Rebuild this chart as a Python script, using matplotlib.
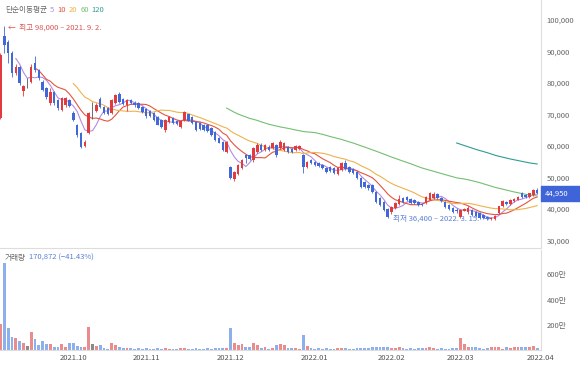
import numpy as np
import pandas as pd
import matplotlib
matplotlib.use('Agg')
import matplotlib.pyplot as plt

plt.rcParams['font.family'] = ['Noto Sans CJK KR', 'DejaVu Sans']

# daily candles, 2021-09-01 .. 2022-03-31 (KRX trading days)
opens = [69000, 95000, 93000, 89500, 83300, 85200, 77500, 80000, 80400, 86500,
         84100, 80400, 78400, 73600, 77200, 74600, 71400, 73000, 74600, 70500,
         66700, 64100, 60000, 64100, 69200, 71100, 74900, 72400, 72100, 70500,
         73600, 76500, 74900, 73000, 74600, 73800, 73600, 72400, 71700, 71100,
         70500, 69200, 68300, 65000, 67600, 68900, 68000, 66000, 68300, 70000,
         69300, 67700, 67300, 66700, 66500, 65700, 64400, 62500, 61300, 58100,
         53300, 49500, 51000, 53000, 57000, 57000, 55500, 58100, 60300, 58700,
         59700, 59400, 60300, 59400, 58700, 59700, 59000, 58700, 59000, 57100,
         53300, 55600, 55000, 54600, 54000, 53000, 53300, 53000, 51000, 52400,
         54600, 53300, 52700, 51700, 49800, 48600, 47600, 47600, 45400, 43500,
         42200, 40000, 39000, 40300, 41600, 43500, 43900, 43300, 42900, 42300,
         41500, 42000, 43000, 43500, 44800, 43600, 42200, 41300, 40300, 39700,
         37500, 39400, 39000, 39700, 39000, 38700, 38000, 37500, 36800, 36900,
         38600, 40800, 42300, 41600, 42500, 43000, 45000, 44500, 43800, 44500,
         46000]
highs = [89500, 98000, 93500, 90000, 86000, 85500, 79500, 81500, 86000, 88500,
         84500, 81000, 78800, 78400, 77500, 75000, 75500, 75500, 75000, 71000,
         67000, 64500, 61800, 70800, 74000, 73500, 75500, 72800, 72500, 75000,
         76500, 77000, 75200, 75000, 75000, 74300, 74000, 72800, 72000, 71500,
         70800, 69500, 68600, 68600, 69500, 69200, 68300, 68200, 71200, 70300,
         69600, 68000, 67500, 67000, 67000, 66000, 64700, 62800, 61600, 61600,
         53600, 52000, 54300, 56000, 57500, 57500, 59800, 60800, 60800, 60600,
         60200, 61300, 60600, 62000, 61300, 60000, 59300, 60300, 60300, 57500,
         55300, 56000, 55300, 54900, 54300, 53300, 53600, 53300, 53300, 55000,
         55500, 53600, 53000, 52000, 50100, 48900, 48000, 47900, 45700, 43800,
         42500, 40300, 41000, 42200, 44500, 43800, 44200, 43600, 43200, 42600,
         42000, 44200, 45500, 45300, 45100, 43900, 42500, 41600, 40600, 40200,
         40000, 40300, 41000, 40000, 39300, 39000, 38300, 37800, 37500, 38200,
         41000, 42800, 42600, 43300, 43600, 44200, 45300, 44800, 45200, 46300,
         46500]
lows = [68500, 89500, 86500, 82000, 82500, 79500, 76000, 78500, 80000, 83500,
        81000, 77500, 75000, 73000, 73000, 71500, 71000, 72500, 72300, 68000,
        63000, 59500, 59800, 63800, 68500, 70800, 72000, 70000, 69800, 70000,
        73300, 73600, 73000, 71000, 73300, 72500, 71800, 70500, 69000, 69200,
        68000, 66500, 65800, 64500, 67300, 67000, 66800, 65800, 68000, 67800,
        67100, 64800, 65200, 64800, 64500, 63200, 61600, 60800, 58400, 57800,
        49500, 49000, 50800, 52800, 54500, 55500, 55000, 57800, 58500, 58400,
        58500, 59000, 56500, 59000, 58500, 57800, 57700, 58400, 58700, 51400,
        53000, 54300, 53700, 53300, 52700, 51400, 51700, 51100, 50700, 52100,
        52400, 51400, 51100, 49500, 46700, 46700, 46000, 45100, 41900, 41000,
        39400, 37200, 38500, 40000, 41300, 42000, 42600, 41700, 41600, 41000,
        40800, 41700, 42800, 43200, 43300, 42300, 40300, 39700, 38700, 38700,
        37200, 39200, 38500, 37800, 37400, 36800, 36700, 36600, 36500, 36400,
        38300, 40500, 41300, 41300, 42200, 42700, 43600, 43500, 43500, 44200,
        44600]
closes = [89000, 92000, 89500, 83200, 85200, 80000, 79000, 80000, 85200, 84000,
          81600, 77800, 75600, 77200, 73600, 72100, 75200, 75200, 72700, 68300,
          63500, 59700, 61300, 70500, 69200, 73000, 72400, 70500, 70200, 74600,
          76200, 74000, 73300, 74600, 73600, 73000, 72100, 70800, 69500, 69500,
          68300, 66700, 66000, 68300, 69200, 67300, 67000, 67900, 70800, 68000,
          67400, 65100, 65400, 65100, 64800, 63500, 61900, 61000, 58700, 61300,
          49800, 51700, 54000, 55600, 56200, 56000, 59400, 60300, 58700, 60300,
          58700, 61000, 57100, 61300, 61000, 58100, 58000, 60000, 60000, 53300,
          55000, 54600, 54000, 53600, 53000, 51700, 52000, 51400, 53000, 54600,
          52700, 51700, 51400, 49800, 47000, 47000, 46500, 45400, 42200, 41300,
          39700, 37500, 40600, 41900, 43200, 42300, 42900, 42000, 41900, 41300,
          41300, 43900, 45100, 44800, 43600, 42600, 40600, 40000, 39000, 39400,
          39700, 40000, 40300, 38100, 37700, 37100, 37000, 36800, 37200, 37900,
          40800, 42500, 41600, 43000, 43300, 43900, 43900, 43800, 45000, 46000,
          44950]
# volume in 만 shares
volumes = [206, 690, 174, 105, 97, 74, 58, 32, 145, 84,
           37, 71, 45, 45, 26, 21, 45, 26, 55, 53,
           34, 21, 21, 185, 45, 32, 37, 18, 10, 58,
           42, 26, 18, 13, 12, 10, 14, 9, 12, 8,
           10, 13, 9, 15, 11, 8, 9, 12, 16, 10,
           9, 13, 8, 10, 12, 11, 14, 12, 16, 18,
           177, 53, 40, 45, 21, 26, 53, 40, 18, 21,
           10, 12, 40, 48, 37, 18, 18, 13, 10, 119,
           29, 13, 10, 12, 9, 14, 10, 11, 13, 15,
           12, 8, 9, 13, 18, 14, 12, 20, 24, 26,
           22, 24, 18, 15, 20, 13, 10, 12, 9, 14,
           12, 18, 22, 14, 10, 12, 11, 10, 14, 16,
           93, 45, 26, 26, 21, 13, 10, 18, 26, 26,
           21, 10, 21, 18, 26, 21, 21, 21, 26, 29,
           17.0872]

holidays = ['2021-09-20', '2021-09-21', '2021-09-22', '2021-10-04', '2021-10-11',
            '2021-12-31', '2022-01-31', '2022-02-01', '2022-02-02',
            '2022-03-01', '2022-03-09']
ma_windows = [5, 10, 20, 60, 120]
ma_colors = ['#b48be6', '#e4553f', '#efb24c', '#74bf72', '#2f9c94']

days = pd.bdate_range('2021-09-01', '2022-04-01')
days = days[~days.isin(pd.to_datetime(holidays))]
df = pd.DataFrame({'open': opens, 'high': highs, 'low': lows, 'close': closes,
                   'vol': np.array(volumes) * 1e4}, index=days[:len(closes)])
x = np.arange(len(df))

up = df['close'] > df['open']
down = df['close'] < df['open']
c_col = np.where(up, '#e23b3f', np.where(down, '#4068d6', '#555555'))
v_col = np.where(up, '#ea8c8e', np.where(down, '#8db0ec', '#8a8a8a'))

fig = plt.figure(figsize=(5.8, 3.67), dpi=100)
W, H = 580, 367
axp = fig.add_axes([0, (H - 248) / H, 541 / W, 248 / H])
axv = fig.add_axes([0, (H - 350) / H, 541 / W, 100 / H])

# candles
axp.vlines(x, df['low'], df['high'], colors=c_col, lw=0.6, zorder=3)
body_lo = np.minimum(df['open'], df['close'])
body_h = np.maximum(np.abs(df['close'] - df['open']), 150)
axp.bar(x, body_h, bottom=body_lo, width=0.64, color=c_col, zorder=4)

# moving averages
for w, col in zip(ma_windows, ma_colors):
    axp.plot(x, df['close'].rolling(w).mean(), color=col, lw=0.8, zorder=2)

axp.set_xlim(-0.13, 141)
axp.set_ylim(27600, 106350)
axp.set_yticks(np.arange(30000, 100001, 10000))
axp.set_yticklabels([f'{v:,}' for v in range(30000, 100001, 10000)])
axp.yaxis.tick_right()
axp.tick_params(axis='y', length=0, labelsize=5.5, labelcolor='#666666', pad=4)
axp.set_xticks([])

# volume
axv.bar(x, df['vol'], width=0.72, color=v_col)
axv.set_xlim(-0.13, 141)
axv.set_ylim(0, 7.94e6)
axv.set_yticks([2e6, 4e6, 6e6])
axv.set_yticklabels(['200만', '400만', '600만'])
axv.yaxis.tick_right()
axv.tick_params(axis='y', length=0, labelsize=5.5, labelcolor='#666666', pad=4)

month_first = pd.Series(np.arange(len(days)), index=days).groupby(days.to_period('M')).first()
tick_idx = list(month_first.values[1:])
tick_lab = [p.strftime('%Y.%m') for p in month_first.index[1:]]
axv.set_xticks(tick_idx)
axv.set_xticklabels(tick_lab)
axv.tick_params(axis='x', length=0, labelsize=5.5, labelcolor='#555555', pad=3)

for ax in (axp, axv):
    for s in ax.spines.values():
        s.set_visible(False)
    ax.spines['right'].set_visible(True)
    ax.spines['right'].set_color('#dddddd')
    ax.spines['right'].set_linewidth(0.8)
    ax.spines['bottom'].set_visible(True)
    ax.spines['bottom'].set_color('#dddddd')
    ax.spines['bottom'].set_linewidth(0.8)

# header texts, chained left to right
fig.canvas.draw()
renderer = fig.canvas.get_renderer()


def chain(parts, x0, y0, size=5.5):
    xp = x0
    for txt, col in parts:
        t = fig.text(xp / W, 1 - y0 / H, txt, color=col, fontsize=size, va='center', ha='left')
        bb = t.get_window_extent(renderer)
        xp += bb.width + 3


chain([('단순이동평균', '#666666')] + [(str(w), c) for w, c in zip(ma_windows, ma_colors)], 5, 10)
chain([('거래량', '#666666'), ('170,872 (−41.43%)', '#5b7fd8')], 5, 258)
fig.text(8 / W, 1 - 28 / H, '←  최고 98,000 – 2021. 9. 2.', color='#d9534f', fontsize=5.5, va='center')
fig.text(490 / W, 1 - 219 / H, '최저 36,400 – 2022. 3. 15.  →', color='#5b7fd8', fontsize=5.5,
         va='center', ha='right')

# last price tag
fig.patches.append(plt.Rectangle((541 / W, 1 - 201 / H), 39 / W, 15 / H, transform=fig.transFigure,
                                 color='#3f63d8', zorder=5))
fig.text(545 / W, 1 - 193.5 / H, f'{closes[-1]:,}', color='white', fontsize=5.5, va='center', zorder=6)

fig.savefig('out.png', dpi=100)
